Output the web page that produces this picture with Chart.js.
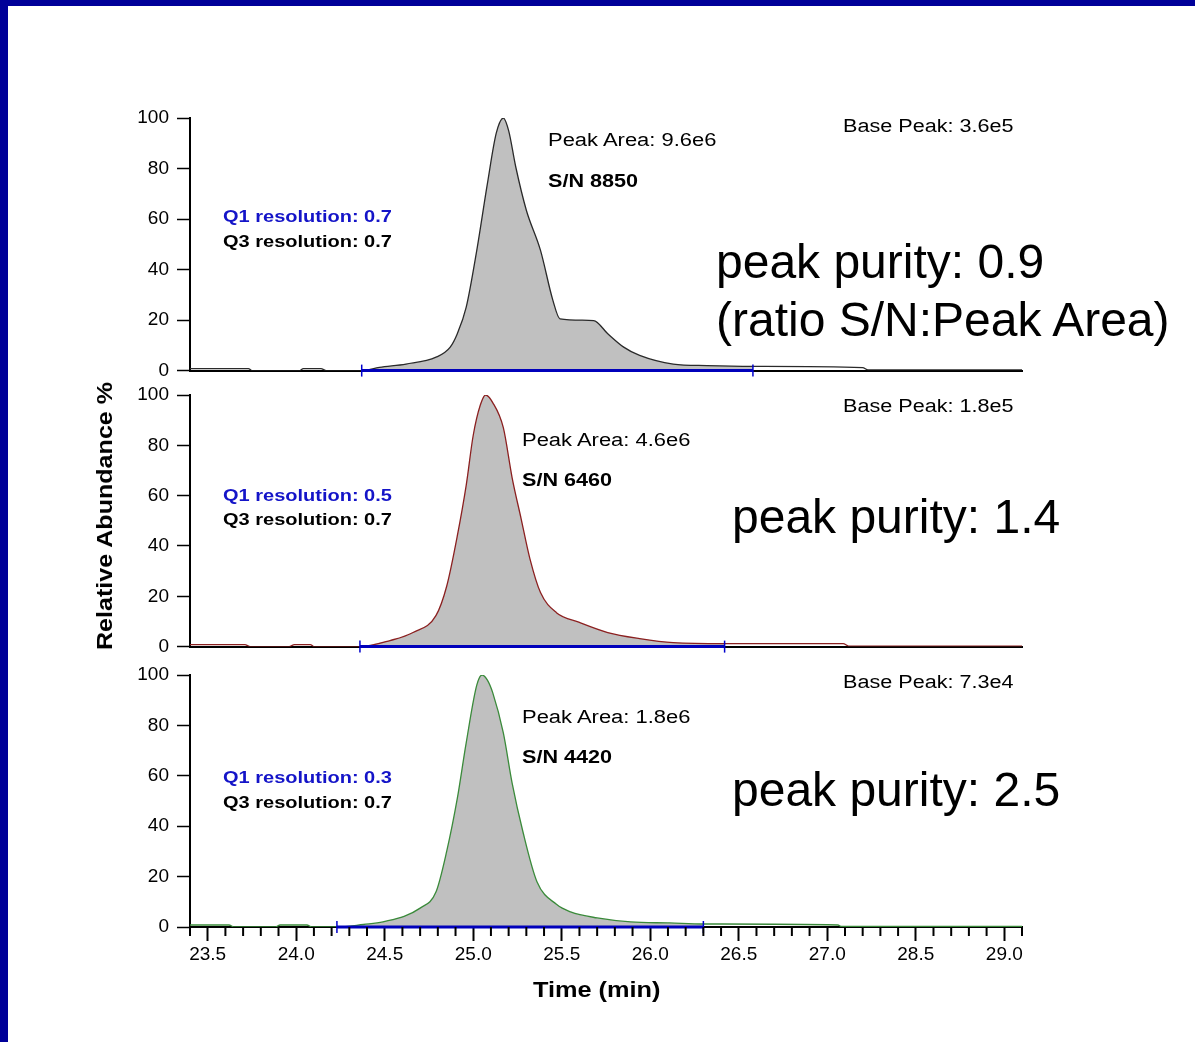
<!DOCTYPE html>
<html>
<head>
<meta charset="utf-8">
<script src="https://cdn.jsdelivr.net/npm/chart.js@4.4.0/dist/chart.umd.min.js"></script>
<style>
  body { margin: 0; background: #fff; }
  #page { position: relative; width: 1195px; height: 1042px; overflow: hidden; background: #fff;
          font-family: Arial, "Liberation Sans", sans-serif; color: #000; }
  .bar-left { position: absolute; left: 0; top: 0; width: 8px; height: 1042px; background: #000099; }
  .bar-top { position: absolute; left: 0; top: 0; width: 1195px; height: 6px; background: #000099; }
  canvas { position: absolute; left: 0; }
  .note { position: absolute; white-space: nowrap; line-height: 1; transform-origin: 0 0; }
  .base { font-size: 18px; transform: scaleX(1.2); }
  .area { font-size: 18px; transform: scaleX(1.22); }
  .sn { font-size: 18px; font-weight: bold; transform: scaleX(1.2); }
  .res { font-size: 16px; font-weight: bold; transform: scaleX(1.25); }
  .q1 { color: #1414c8; }
  .big { font-size: 48px; line-height: 58px; }
  .ytitle { position: absolute; left: 105px; top: 516px; font-size: 22px; font-weight: bold; white-space: nowrap;
            transform: translate(-50%, -50%) rotate(-90deg) scaleX(1.14); }
  .xtitle { position: absolute; left: 533px; top: 979px; font-size: 22px; font-weight: bold; line-height: 1; white-space: nowrap;
            transform-origin: 0 0; transform: scaleX(1.15); }
</style>
</head>
<body>
<div id="page">
  <div class="bar-left"></div>
  <div class="bar-top"></div>
  <canvas id="c1" width="1195" height="292" style="top:98px"></canvas>
  <canvas id="c2" width="1195" height="291" style="top:375px"></canvas>
  <canvas id="c3" width="1195" height="387" style="top:655px"></canvas>
  <div class="ytitle">Relative Abundance %</div>
  <div class="xtitle">Time (min)</div>
</div>
<script>
// x axis: tick positions and the labels printed under them
const timeTicks = [23.5, 24.0, 24.5, 25.0, 25.5, 26.0, 26.5, 27.0, 27.5, 28.0];
const timeTickLabels = ['23.5', '24.0', '24.5', '25.0', '25.5', '26.0', '26.5', '27.0', '28.5', '29.0'];
const abundanceTicks = [0, 20, 40, 60, 80, 100];

// panel 1 trace
const time1 = [23.40, 23.73, 23.75, 24.02, 24.04, 24.14, 24.17, 24.37, 24.47, 24.62, 24.79, 24.87, 24.91, 24.96,
  25.02, 25.08, 25.13, 25.17, 25.20, 25.24, 25.30, 25.38, 25.45, 25.49, 25.68, 25.76, 25.85, 25.94, 26.13, 26.32, 26.58,
  27.20, 27.23, 28.10];
const abund1 = [0.8, 0.8, 0, 0, 0.8, 0.8, 0, 0, 1.3, 2.6, 5.3, 9.3, 14.6, 25,
  47.6, 74, 94, 100, 95, 80.7, 63.5, 47.6, 27.8, 20.5, 19.8, 14.6, 9.3, 6, 2.6, 2, 1.7,
  1.2, 0.3, 0.3];
const peak1 = [24.37, 26.58];

// panel 2 trace
const time2 = [23.40, 23.71, 23.74, 23.96, 23.99, 24.08, 24.10, 24.36, 24.53, 24.66, 24.79, 24.85, 24.91, 24.96,
  25.00, 25.04, 25.07, 25.11, 25.17, 25.22, 25.27, 25.32, 25.38, 25.47, 25.60, 25.76, 25.94, 26.13, 26.42,
  27.09, 27.12, 28.10];
const abund2 = [0.8, 0.8, 0, 0, 0.8, 0.8, 0, 0, 2.4, 5.6, 12.4, 24, 44, 64,
  84, 96, 100, 97, 87, 67, 51, 35, 21.5, 13.5, 9.6, 5.6, 3.2, 1.6, 1.2,
  1.2, 0.2, 0.2];
const peak2 = [24.36, 26.42];

// panel 3 trace
const time3 = [23.40, 23.62, 23.65, 23.88, 23.91, 24.06, 24.09, 24.23, 24.38, 24.49, 24.70, 24.79, 24.85, 24.91,
  24.96, 25.02, 25.05, 25.08, 25.11, 25.17, 25.22, 25.28, 25.36, 25.47, 25.55, 25.70, 25.89, 26.11, 26.30,
  27.06, 27.08, 28.10];
const abund3 = [0.8, 0.8, 0, 0, 0.8, 0.8, 0, 0, 1, 2, 7.5, 14, 30, 51,
  73, 96, 100, 98, 93, 77, 57, 38, 18, 9, 6, 3.6, 2, 1.6, 1.2,
  0.8, 0.2, 0.2];
const peak3 = [24.23, 26.30];

// annotation values
const basePeaks = ['3.6e5', '1.8e5', '7.3e4'];
const peakAreas = ['9.6e6', '4.6e6', '1.8e6'];
const signalNoise = ['8850', '6460', '4420'];
const q1Res = ['0.7', '0.5', '0.3'];
const q3Res = ['0.7', '0.7', '0.7'];
const purity = ['0.9', '1.4', '2.5'];

// layout of each panel (canvas + notes)
const panels = [
  { id: 'c1', times: time1, values: abund1, limits: peak1, color: '#2a2a2a', padTop: 20, padBottom: 0, axis: false,
    baseTop: 117, areaX: 548, areaTop: 131, snTop: 172, q1Top: 209, q3Top: 234, bigX: 716, bigTop: 233 },
  { id: 'c2', times: time2, values: abund2, limits: peak2, color: '#8b2020', padTop: 20, padBottom: 0, axis: false,
    baseTop: 397, areaX: 522, areaTop: 431, snTop: 471, q1Top: 488, q3Top: 512, bigX: 732, bigTop: 488 },
  { id: 'c3', times: time3, values: abund3, limits: peak3, color: '#3a8a3a', padTop: 20, padBottom: 65, axis: true,
    baseTop: 673, areaX: 522, areaTop: 708, snTop: 748, q1Top: 770, q3Top: 795, bigX: 732, bigTop: 761 }
];

const minorTicks = {
  id: 'minorTicks',
  afterDraw(chart) {
    if (!chart.options.plugins.minorTicks.show) return;
    const xs = chart.scales.x, ctx = chart.ctx, y0 = chart.chartArea.bottom;
    ctx.save();
    ctx.strokeStyle = '#000';
    ctx.lineWidth = 2;
    for (let k = 0; k <= 47; k++) {
      const v = Math.round((23.4 + k * 0.1) * 10) / 10;
      if (Math.abs(v * 2 - Math.round(v * 2)) < 1e-6) continue;
      const px = xs.getPixelForValue(v);
      ctx.beginPath();
      ctx.moveTo(px, y0);
      ctx.lineTo(px, y0 + 9);
      ctx.stroke();
    }
    ctx.restore();
  }
};

function note(cls, text, x, y) {
  const d = document.createElement('div');
  d.className = 'note ' + cls;
  d.style.left = x + 'px';
  d.style.top = y + 'px';
  d.innerHTML = text;
  document.getElementById('page').appendChild(d);
}

panels.forEach((p, i) => {
  const trace = p.times.map((t, k) => ({ x: t, y: p.values[k] }));
  const peak = trace.filter(pt => pt.x >= p.limits[0] && pt.x <= p.limits[1]);
  new Chart(document.getElementById(p.id), {
    type: 'line',
    data: {
      datasets: [
        { data: peak, borderColor: 'transparent', borderWidth: 0, backgroundColor: '#c0c0c0',
          fill: 'origin', pointRadius: 0, cubicInterpolationMode: 'monotone', order: 2 },
        { data: trace, borderColor: p.color, borderWidth: 1.3, pointRadius: 0, fill: false,
          cubicInterpolationMode: 'monotone', order: 1 },
        { data: p.limits.map(t => ({ x: t, y: 0 })), borderColor: '#0000bb', borderWidth: 3, fill: false, clip: false,
          pointStyle: 'line', pointRotation: 90, pointRadius: 6, pointBorderColor: '#0000cc',
          pointBorderWidth: 1.5, order: 0 }
      ]
    },
    options: {
      responsive: false,
      animation: false,
      devicePixelRatio: 1,
      layout: { padding: { top: p.padTop, bottom: p.padBottom, left: 0, right: 173 } },
      plugins: { legend: { display: false }, tooltip: { enabled: false }, minorTicks: { show: p.axis } },
      scales: {
        x: {
          type: 'linear', min: 23.4, max: 28.1,
          afterBuildTicks: s => { s.ticks = timeTicks.map(v => ({ value: v })); },
          afterFit: s => { s.height = p.axis ? 50 : 0; },
          grid: { drawOnChartArea: false, drawTicks: p.axis, tickLength: 14, tickWidth: 2, tickColor: '#000' },
          border: { color: '#000', width: 2 },
          ticks: { display: p.axis, autoSkip: false, maxRotation: 0, padding: 2, color: '#000',
            font: { size: 19, family: 'Arial' },
            callback: (v, idx) => timeTickLabels[idx] }
        },
        y: {
          min: 0, max: 100,
          afterBuildTicks: s => { s.ticks = abundanceTicks.map(v => ({ value: v })); },
          afterFit: s => { s.width = 190; },
          grid: { drawOnChartArea: false, tickLength: 13, tickWidth: 1.5, tickColor: '#000' },
          border: { color: '#000', width: 2 },
          ticks: { color: '#000', padding: 8, font: { size: 19, family: 'Arial' } }
        }
      }
    },
    plugins: [minorTicks]
  });

  note('base', 'Base Peak: ' + basePeaks[i], 843, p.baseTop);
  note('area', 'Peak Area: ' + peakAreas[i], p.areaX, p.areaTop);
  note('sn', 'S/N ' + signalNoise[i], p.areaX, p.snTop);
  note('res q1', 'Q1 resolution: ' + q1Res[i], 223, p.q1Top);
  note('res', 'Q3 resolution: ' + q3Res[i], 223, p.q3Top);
  note('big', 'peak purity: ' + purity[i] + (i === 0 ? '<br>(ratio S/N:Peak Area)' : ''), p.bigX, p.bigTop);
});
</script>
</body>
</html>
